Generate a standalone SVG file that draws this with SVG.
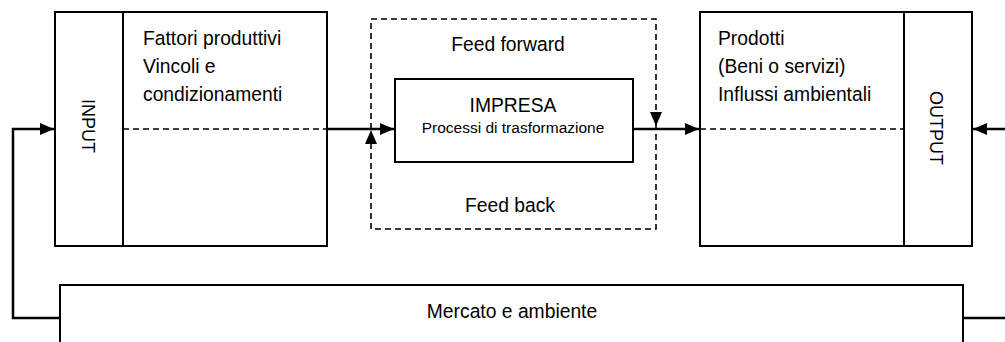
<svg xmlns="http://www.w3.org/2000/svg" width="1005" height="342" viewBox="0 0 1005 342">
  <defs>
    <marker id="arrow" markerUnits="userSpaceOnUse" markerWidth="14" markerHeight="12" refX="14" refY="6" orient="auto">
      <path d="M0,0 L14,6 L0,12 Z" fill="#000"/>
    </marker>
    <style>
      text { font-family: "Liberation Sans", Arial, sans-serif; fill: #000; }
      .box { fill: #fff; stroke: #000; stroke-width: 2; }
      .dash { fill: none; stroke: #000; stroke-width: 1.6; stroke-dasharray: 6 4; }
      .wire { fill: none; stroke: #000; stroke-width: 2.5; }
      .lbl { font-size: 19.3px; }
      .side { font-size: 18px; text-anchor: middle; }
      .mid { text-anchor: middle; }
    </style>
  </defs>

  <rect width="1005" height="342" fill="#fff"/>

  <!-- Environment / market strip at the bottom -->
  <g id="mercato">
    <rect class="box" x="60" y="285" width="903" height="80"/>
    <text class="lbl mid" x="512" y="318">Mercato e ambiente</text>
  </g>

  <!-- Input block -->
  <g id="input">
    <rect class="box" x="55" y="12" width="272" height="234"/>
    <line x1="123" y1="12" x2="123" y2="246" stroke="#000" stroke-width="2"/>
    <line class="dash" x1="123" y1="129" x2="327" y2="129"/>
    <text class="side" transform="translate(82,126) rotate(90)">INPUT</text>
    <text class="lbl" x="143" y="45">Fattori produttivi</text>
    <text class="lbl" x="143" y="73">Vincoli e</text>
    <text class="lbl" x="143" y="101">condizionamenti</text>
  </g>

  <!-- Control loop frame -->
  <g id="controllo">
    <rect class="dash" x="371" y="19" width="285" height="210"/>
    <text class="lbl mid" x="508" y="51">Feed forward</text>
    <text class="lbl mid" x="510" y="212">Feed back</text>
  </g>

  <!-- Enterprise -->
  <g id="impresa">
    <rect class="box" x="395" y="79" width="238" height="83"/>
    <text class="lbl mid" x="513" y="112">IMPRESA</text>
    <text class="mid" x="513" y="133" font-size="15.5">Processi di trasformazione</text>
  </g>

  <!-- Output block -->
  <g id="output">
    <rect class="box" x="700" y="12" width="272" height="234"/>
    <line x1="904" y1="12" x2="904" y2="246" stroke="#000" stroke-width="2"/>
    <line class="dash" x1="700" y1="129" x2="904" y2="129"/>
    <text class="side" transform="translate(930,128) rotate(90)">OUTPUT</text>
    <text class="lbl" x="718" y="45">Prodotti</text>
    <text class="lbl" x="718" y="73">(Beni o servizi)</text>
    <text class="lbl" x="718" y="101">Influssi ambientali</text>
  </g>

  <g id="connectors">
    <path class="wire" d="M60,318 H13 V129 H54" marker-end="url(#arrow)"/>
    <path class="wire" d="M327,129 H394" marker-end="url(#arrow)"/>
    <path class="wire" d="M633,129 H699" marker-end="url(#arrow)"/>
    <path class="wire" d="M963,318 H1006"/>
    <path class="wire" d="M1006,129 H973" marker-end="url(#arrow)"/>
    <!-- feed-forward / feed-back heads on the dashed frame -->
    <path d="M656,100 V126" stroke="none" fill="none" marker-end="url(#arrow)"/>
    <path d="M371,160 V130" stroke="none" fill="none" marker-end="url(#arrow)"/>
  </g>
</svg>
